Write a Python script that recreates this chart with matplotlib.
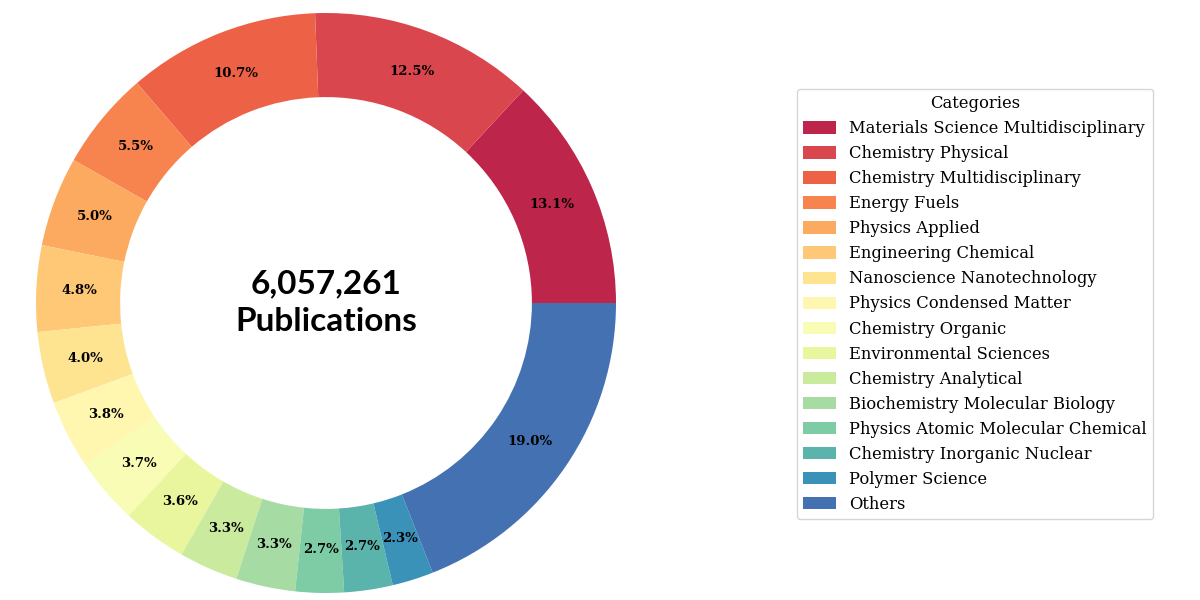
import matplotlib.pyplot as plt
import seaborn as sns

categories = ['Materials Science Multidisciplinary', 'Chemistry Physical',
              'Chemistry Multidisciplinary', 'Energy Fuels', 'Physics Applied',
              'Engineering Chemical', 'Nanoscience Nanotechnology',
              'Physics Condensed Matter', 'Chemistry Organic',
              'Environmental Sciences', 'Chemistry Analytical',
              'Biochemistry Molecular Biology', 'Physics Atomic Molecular Chemical',
              'Chemistry Inorganic Nuclear', 'Polymer Science', 'Others']
shares = [13.1, 12.5, 10.7, 5.5, 5.0, 4.8, 4.0, 3.8, 3.7, 3.6, 3.3, 3.3, 2.7, 2.7, 2.3, 19.0]
total_label = '6,057,261\nPublications'

colors = sns.color_palette('Spectral', len(shares))

fig = plt.figure(figsize=(12, 6), dpi=100)
ax = fig.add_axes([36/1200, 7/600, 580/1200, 580/600])
wedges, texts, autotexts = ax.pie(shares, colors=colors, startangle=0, counterclock=True,
                                  autopct='%1.1f%%', pctdistance=0.85,
                                  wedgeprops=dict(width=0.29, edgecolor='none'),
                                  textprops=dict(family='DejaVu Serif', fontsize=9.5,
                                                 fontweight='bold', color='black'))
ax.set_xlim(-1, 1)
ax.set_ylim(-1, 1)
ax.set_aspect('equal')
ax.text(0, 0, total_label, ha='center', va='center', fontsize=24,
        fontweight='bold', family='Lato', linespacing=1.35)

leg = fig.legend(wedges, categories, title='Categories', loc='center',
                 bbox_to_anchor=(975/1200, 1 - 304/600),
                 prop=dict(family='DejaVu Serif', size=11.8),
                 title_fontproperties=dict(family='DejaVu Serif', size=11.8),
                 handlelength=2.0, handleheight=0.8, labelspacing=0.49)
fig.savefig('out.png', dpi=100)
